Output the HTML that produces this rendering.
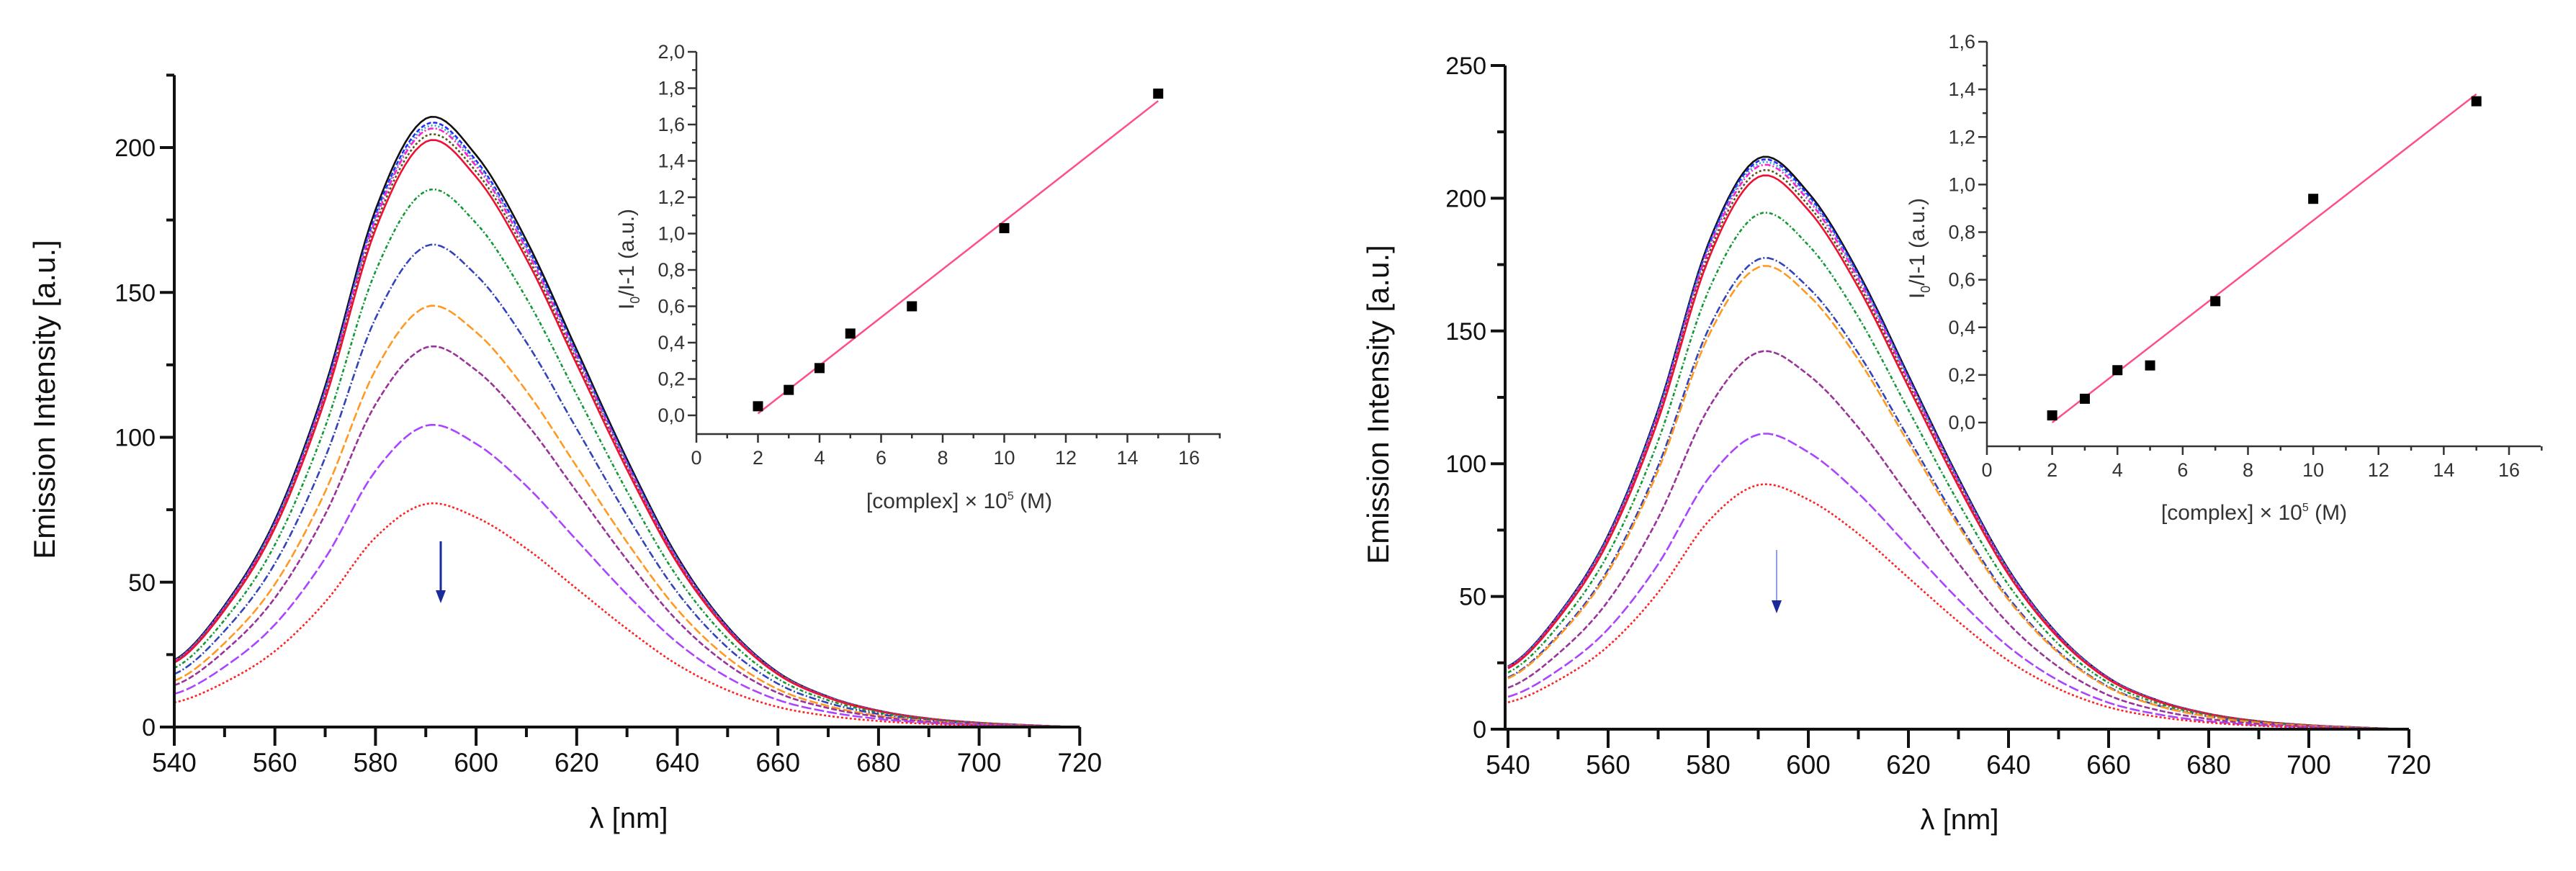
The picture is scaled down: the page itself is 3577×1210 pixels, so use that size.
<!DOCTYPE html>
<html><head><meta charset="utf-8"><style>
html,body{margin:0;padding:0;background:#fff;}
svg{display:block;font-family:"Liberation Sans",sans-serif;}
</style></head><body>
<svg id="fig" width="3577" height="1210" viewBox="0 0 3577 1210" xmlns="http://www.w3.org/2000/svg">
<rect width="3577" height="1210" fill="#fff"/>
</svg>
<script>
// ---- data ----
const wavelengths = [540,550,560,570,580,590,600,610,620,630,640,650,660,670,680,690,700,710,720];
const profile = [0.11,0.20,0.34,0.56,0.85,1.0,0.94,0.80,0.62,0.44,0.28,0.165,0.09,0.05,0.027,0.014,0.007,0.003,0.0];
const leftPeaks = [210,208,207,206,204,202,185,166,145,131,104,77];
const rightPeaks = [215,214,213,212,210,208,194,177,174,142,111,92];
const seriesColors = ["#111111","#2a2aff","#22aacc","#ff22cc","#555522","#ee1133","#119933","#3344bb","#ff9922","#993399","#aa44ff","#ff2222"];
const seriesDash = ["none","6 3","2 3","8 3 2 3","3 3","none","5 3 2 3","10 3 2 3","12 4","8 3","14 4","3 3"];
const insetX = [2,3,4,5,7,10,15];
const insetYLeft = [0.05,0.14,0.26,0.45,0.60,1.03,1.77];
const insetYRight = [0.03,0.10,0.22,0.24,0.51,0.94,1.35];
const fitLeft = [[2,0.01],[15,1.73]];
const fitRight = [[2,0.0],[15,1.38]];
const xTicks = [540,560,580,600,620,640,660,680,700,720];
const yTicksLeft = [0,50,100,150,200];
const yTicksRight = [0,50,100,150,200,250];
const insetXTicks = [0,2,4,6,8,10,12,14,16];
const insetYTicksLeft = [0,0.2,0.4,0.6,0.8,1.0,1.2,1.4,1.6,1.8,2.0];
const insetYTicksRight = [0,0.2,0.4,0.6,0.8,1.0,1.2,1.4,1.6];

const NS="http://www.w3.org/2000/svg";
const svg=document.getElementById('fig');
function mk(tag,attrs,parent){const e=document.createElementNS(NS,tag);for(const k in attrs)e.setAttribute(k,attrs[k]);(parent||svg).appendChild(e);return e;}
function txt(s,x,y,size,anchor,parent,extra){const t=mk('text',Object.assign({x:x,y:y,'font-size':size,'text-anchor':anchor||'middle',fill:'#111'},extra||{}),parent);t.textContent=s;return t;}

function profAt(w){
  const step=10;let i=Math.floor((w-540)/step);if(i<0)i=0;if(i>=wavelengths.length-1)i=wavelengths.length-2;
  const t=(w-wavelengths[i])/step;
  const p0=profile[Math.max(i-1,0)],p1=profile[i],p2=profile[i+1],p3=profile[Math.min(i+2,profile.length-1)];
  return 0.5*((2*p1)+(-p0+p2)*t+(2*p0-5*p1+4*p2-p3)*t*t+(-p0+3*p1-3*p2+p3)*t*t*t);
}

function mainChart(cfg){
  const g=mk('g',{},svg);
  
  
  const X=w=>cfg.x0+(w-540)*cfg.xs;
  const Y=v=>cfg.y0-v*cfg.ys;
  cfg.peaks.forEach((pk,si)=>{
    let d='';
    for(let w=540;w<=720;w+=1){d+=(w===540?'M':'L')+X(w).toFixed(1)+','+Y(Math.max(0,pk*profAt(w))).toFixed(1);}
    const p=mk('path',{d:d,fill:'none',stroke:seriesColors[si],'stroke-width':2.6,'stroke-dasharray':seriesDash[si]},g);
    
    
  });
  const ax=mk('g',{stroke:'#111','stroke-width':4,fill:'none'},g);
  
  
  mk('line',{x1:cfg.axX,y1:cfg.y0,x2:cfg.axX,y2:Y(cfg.ymax)},ax);
  mk('line',{x1:cfg.axX-20,y1:cfg.y0,x2:X(720),y2:cfg.y0},ax);
  for(let w=540;w<=720;w+=10){mk('line',{x1:X(w),y1:cfg.y0,x2:X(w),y2:cfg.y0+(w%20===0?26:14)},ax);}
  for(let v=0;v<=cfg.ymax;v+=25){mk('line',{x1:cfg.axX,y1:Y(v),x2:cfg.axX-(v%50===0?20:11),y2:Y(v)},ax);}
  xTicks.forEach(w=>{const t=txt(String(w),X(w),cfg.y0+62,37,'middle',g);});
  cfg.yticks.forEach(v=>{const t=txt(String(v),cfg.axX-26,Y(v)+12,34,'end',g);});
  const yt=txt('Emission Intensity [a.u.]',0,0,42,'middle',g,{transform:'translate('+cfg.ytx+','+(cfg.yty)+') rotate(-90)'});
  
  const xt=txt('λ [nm]',cfg.xtx,cfg.xty,40,'middle',g);
  
  const ar=mk('g',{},g);
  
  
  mk('line',{x1:cfg.arX,y1:cfg.arY1,x2:cfg.arX,y2:cfg.arY2-14,stroke:cfg.arColor,'stroke-width':cfg.arW},ar);
  mk('path',{d:`M${cfg.arX-7},${cfg.arY2-18} L${cfg.arX+7},${cfg.arY2-18} L${cfg.arX},${cfg.arY2} Z`,fill:'#1a2a9a'},ar);
}

function inset(cfg){
  const g=mk('g',{},svg);
  
  
  const X=v=>cfg.x0+v*cfg.xs;
  const Y=v=>cfg.y0-v*cfg.ys;
  const ax=mk('g',{stroke:'#333','stroke-width':2.5,fill:'none'},g);
  
  
  mk('line',{x1:cfg.x0,y1:cfg.axY,x2:cfg.x0,y2:Y(cfg.ymax)},ax);
  mk('line',{x1:cfg.x0,y1:cfg.axY,x2:cfg.xEnd,y2:cfg.axY},ax);
  for(let v=0;v<=17;v+=1){mk('line',{x1:X(v),y1:cfg.axY,x2:X(v),y2:cfg.axY+(v%2===0?12:6)},ax);}
  for(let k=0;k<=Math.round(cfg.ymax*10);k+=1){const v=k/10;mk('line',{x1:cfg.x0,y1:Y(v),x2:cfg.x0-(k%2===0?12:6),y2:Y(v)},ax);}
  insetXTicks.forEach(v=>{const t=txt(String(v),X(v),cfg.axY+42,27,'middle',g,{fill:'#333'});});
  cfg.yticks.forEach(v=>{const t=txt(v.toFixed(1).replace('.',','),cfg.x0-16,Y(v)+9,27,'end',g,{fill:'#333'});});
  const fl=mk('line',{x1:X(cfg.fit[0][0]),y1:Y(cfg.fit[0][1]),x2:X(cfg.fit[1][0]),y2:Y(cfg.fit[1][1]),stroke:'#ff4f8a','stroke-width':2.5},g);
  
  
  insetX.forEach((xv,i)=>{const r=mk('rect',{x:X(xv)-7,y:Y(cfg.ys_data[i])-7,width:14,height:14,fill:'#000'},g);});
  const xt=mk('text',{x:cfg.xtx,y:cfg.xty,'font-size':30,'text-anchor':'middle',fill:'#333'},g);
  xt.innerHTML='[complex] × 10<tspan dy="-12" font-size="16">5</tspan><tspan dy="12"> (M)</tspan>';
  
  
  const yt=mk('text',{'font-size':30,'text-anchor':'middle',fill:'#333',transform:'translate('+cfg.ytx+','+cfg.yty+') rotate(-90)'},g);
  yt.innerHTML='I<tspan dy="8" font-size="18">0</tspan><tspan dy="-8">/I-1 (a.u.)</tspan>';
  
  
}

mainChart({name:'left-emission-chart',x0:242,xs:139.7/20,y0:1010,ys:805/200,axX:242,ymax:225,peaks:leftPeaks,yticks:yTicksLeft,
  ytx:76,yty:555,xtx:873,xty:1150,arX:612,arY1:752,arY2:838,arColor:'#1a2a9a',arW:3});
mainChart({name:'right-emission-chart',x0:2094,xs:139/20,y0:1013,ys:(1013-91)/250,axX:2090,ymax:250,peaks:rightPeaks,yticks:yTicksRight,
  ytx:1928,yty:562,xtx:2721,xty:1152,arX:2467,arY1:764,arY2:852,arColor:'#8fa0e0',arW:2});
inset({name:'left-inset-chart',x0:967,xs:(1651-967)/16,y0:577,ys:(577-72)/2,axY:603,xEnd:1695,ymax:2.0,yticks:insetYTicksLeft,
  ys_data:insetYLeft,fit:fitLeft,xtx:1332,xty:706,ytx:880,yty:360});
inset({name:'right-inset-chart',x0:2759,xs:(3484-2759)/16,y0:587,ys:(587-58)/1.6,axY:620,xEnd:3528,ymax:1.6,yticks:insetYTicksRight,
  ys_data:insetYRight,fit:fitRight,xtx:3130,xty:722,ytx:2672,yty:345});
</script>
</body></html>
